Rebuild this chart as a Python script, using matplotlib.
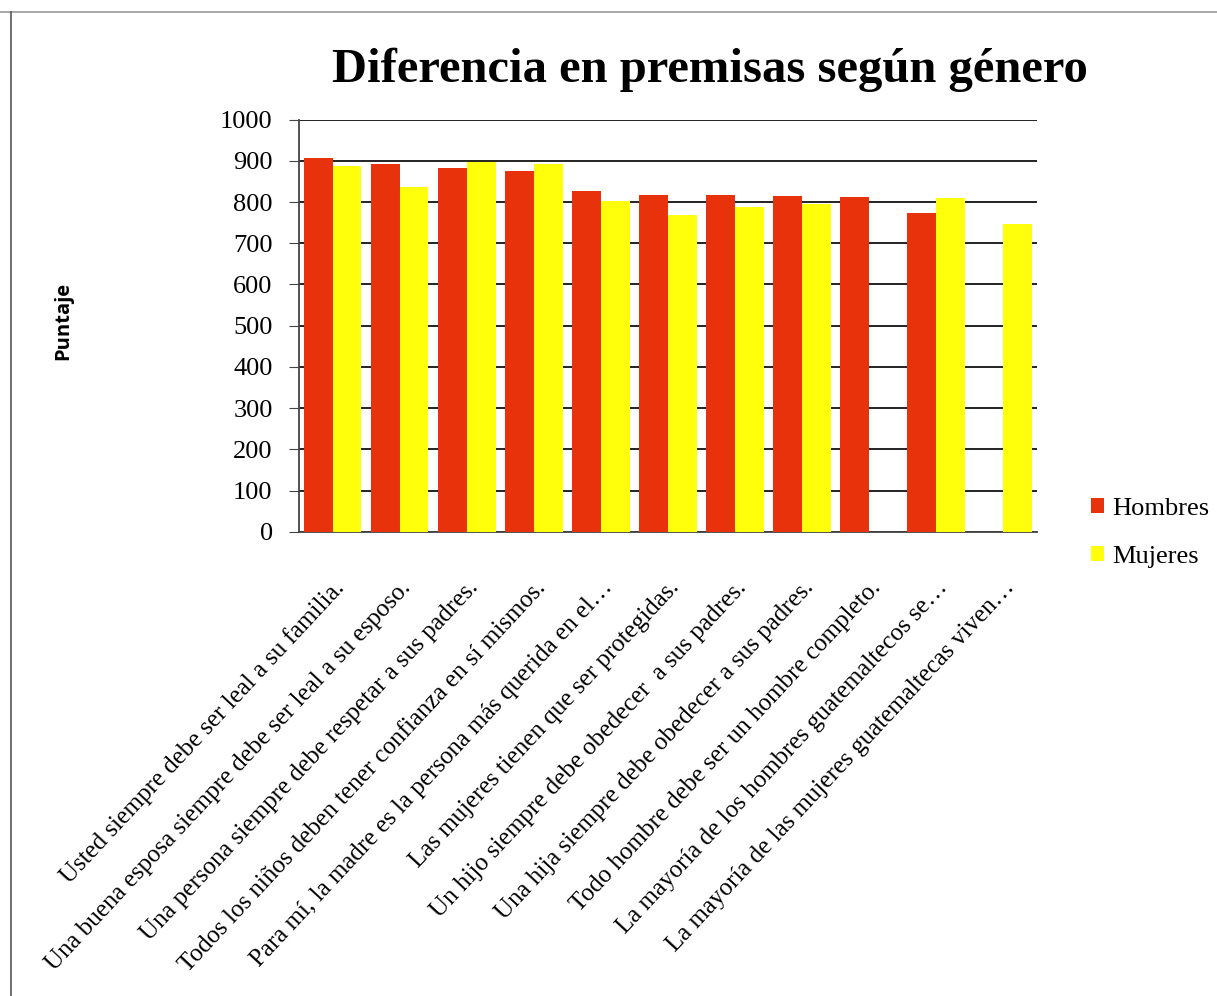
import matplotlib
matplotlib.use("Agg")
import matplotlib.pyplot as plt
import numpy as np
from matplotlib.lines import Line2D

categories = [
    "Usted siempre debe ser leal a su familia.",
    "Una buena esposa siempre debe ser leal a su esposo.",
    "Una persona siempre debe respetar a sus padres.",
    "Todos los niños deben tener confianza en sí mismos.",
    "Para mí, la madre es la persona más querida en el…",
    "Las mujeres tienen que ser protegidas.",
    "Un hijo siempre debe obedecer  a sus padres.",
    "Una hija siempre debe obedecer a sus padres.",
    "Todo hombre debe ser un hombre completo.",
    "La mayoría de los hombres guatemaltecos se…",
    "La mayoría de las mujeres guatemaltecas viven…",
]
hombres = [907, 893, 882, 876, 826, 817, 817, 815, 813, 774, 0]
mujeres = [887, 836, 898, 893, 802, 768, 787, 794, 0, 809, 746]
yticks = list(range(0, 1001, 100))

red = "#E8320C"
yellow = "#FFFF0C"
serif = ["Liberation Serif", "DejaVu Serif"]

fig = plt.figure(figsize=(12.17, 9.96), dpi=100)
ax = fig.add_axes([0.2457, 0.4659, 0.852 - 0.2457, 0.880 - 0.4659])

x = np.arange(len(categories))
w = 0.43
ax.bar(x - w / 2, hombres, width=w, color=red, label="Hombres", zorder=3)
ax.bar(x + w / 2, mujeres, width=w, color=yellow, label="Mujeres", zorder=3)

ax.set_xlim(-0.5, len(categories) - 0.5)
ax.set_ylim(0, 1000)
ax.set_yticks(yticks)
ax.set_yticklabels([str(v) for v in yticks], fontfamily=serif, fontsize=19)
ax.yaxis.grid(True, color="#222222", linewidth=1.4, zorder=0)
ax.set_axisbelow(True)
for s in ["top", "right"]:
    ax.spines[s].set_visible(False)
for s in ["left", "bottom"]:
    ax.spines[s].set_color("#444444")
    ax.spines[s].set_linewidth(1.3)
ax.tick_params(axis="y", direction="out", length=7, color="#444444", pad=12)
ax.tick_params(axis="x", length=0, pad=32)
ax.set_xticks(x)
ax.set_xticklabels(categories, rotation=47, ha="right", rotation_mode="anchor",
                   fontfamily=serif, fontsize=18)

fig.text(0.583, 0.930, "Diferencia en premisas según género", ha="center", va="center",
         fontfamily=serif, fontsize=35, fontweight="bold")
fig.text(0.052, 0.678, "Puntaje", rotation=90, ha="center", va="center",
         fontfamily=["Open Sans", "DejaVu Sans"], fontsize=14.5, fontweight="bold")

leg = fig.legend(loc="center left", bbox_to_anchor=(0.877, 0.465), frameon=False,
                 prop={"family": serif, "size": 19}, handlelength=0.5, handleheight=0.5,
                 handletextpad=0.3, labelspacing=1.0)

# frame lines of the scanned page
fig.add_artist(Line2D([0, 1], [1 - 12 / 996, 1 - 12 / 996], transform=fig.transFigure,
                      color="#999999", linewidth=1.2))
fig.add_artist(Line2D([11 / 1217, 11 / 1217], [0, 1 - 12 / 996], transform=fig.transFigure,
                      color="#555555", linewidth=1.2))

fig.savefig("out.png", dpi=100)
